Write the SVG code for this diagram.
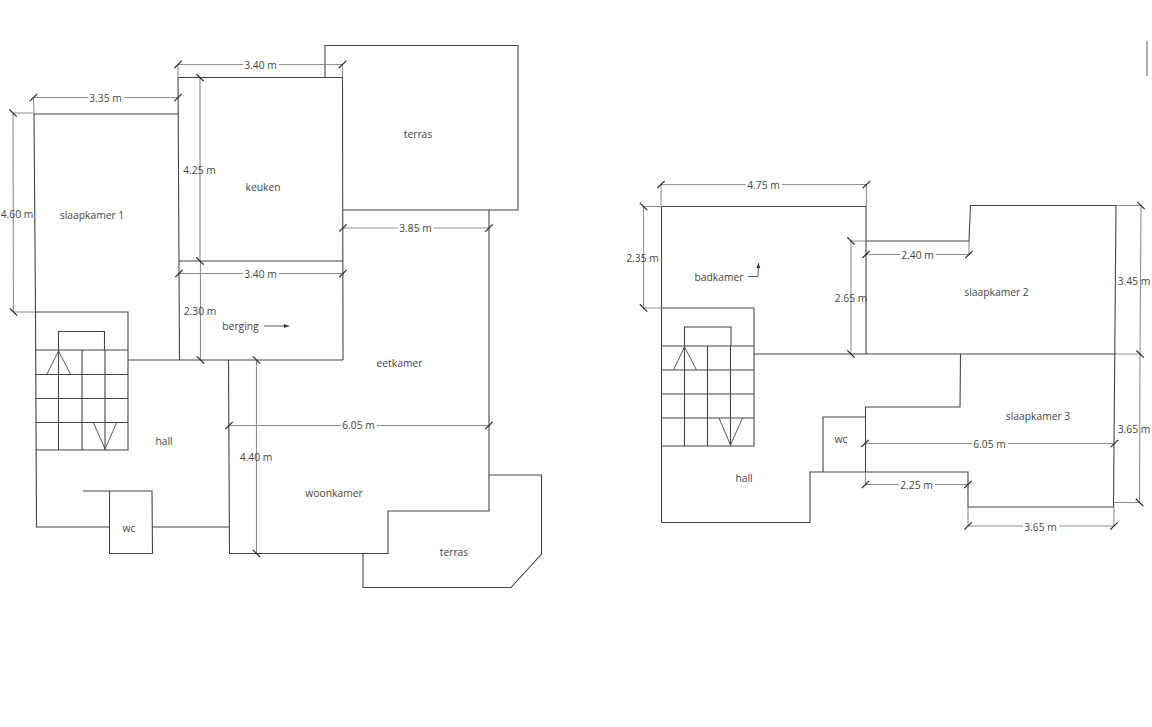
<svg xmlns="http://www.w3.org/2000/svg" width="1152" height="727" viewBox="0 0 1152 727">
<defs>
<marker id="ah" markerWidth="6" markerHeight="5" refX="5" refY="2" orient="auto" markerUnits="userSpaceOnUse"><path d="M0,0 L5,2 L0,4 Z" fill="#333"/></marker>
<path id="ts" d="M-3.700,3.700 L3.700,-3.700"/>
<path id="tb" d="M-3.700,-3.700 L3.700,3.700"/>
</defs>
<style>
.w{fill:none;stroke:#444;stroke-width:1.1}
.d{fill:none;stroke:#8f8f8f;stroke-width:1.100}
.t{fill:none;stroke:#222;stroke-width:1.2}
.a{fill:none;stroke:#444;stroke-width:.9}
text{font-family:"Open Sans","Noto Sans","DejaVu Sans",sans-serif;font-size:10.3px;fill:#444;text-anchor:middle;dominant-baseline:central}
.g{fill:#fff;stroke:none}
</style>
<rect width="1152" height="727" fill="#fff"/>
<g id="walls-left">
<path class="w" d="M34,114H178M178,77.500L179.500,360M178,77.500H342.500L343,360M179,261H343M128,360H343M228.500,360L229.500,553.500H388V511H489V210M325,77.500V45.500H518V210H343"/>
<path class="w" d="M34,114L35.500,312L36.500,527H109.500M152.500,527H229.500"/>
</g>
<g id="stairs-left">
<path class="w" d="M35.500,312H128V450H36M36,350H128M36,374.500H128M36,398.500H128M36,422.500H128M58.500,350V450M82,350V450M105,350V450M58.500,350V331.500H104.500V350"/>
<path class="a" d="M47,374L58.500,351L70.500,374M93.500,423L105,449L116.500,423"/>
</g>
<g id="wc-left"><path class="w" d="M83,491H152L152.500,553.500H109.500V491"/><text x="129" y="528" font-size="10">wc</text></g>
<g id="terras-left-2"><path class="w" d="M363,554V587.500H511L541.500,554V475H489"/><text x="454" y="552">terras</text></g>
<g id="slaapkamer-1"><text x="92" y="215">slaapkamer 1</text></g>
<g id="keuken"><text x="263" y="187">keuken</text></g>
<g id="terras-left-1"><text x="418" y="134">terras</text></g>
<g id="berging"><text x="240.500" y="326">berging</text></g>
<g id="eetkamer"><text x="399.500" y="363">eetkamer</text></g>
<g id="hall-left"><text x="164" y="441">hall</text></g>
<g id="woonkamer"><text x="334" y="493">woonkamer</text></g>
<g id="walls-right">
<path class="w" d="M661.500,206.500H866V354M866,241H969L970.500,205.500H1116L1113.500,507H968V472H810V522.500H661.500V206.500M754,354H1116M960.500,354L960,407H865.500V472"/>
</g>
<g id="stairs-right">
<path class="w" d="M661.500,308H754V446H661.500M661.500,346H754M661.500,370H754M661.500,394H754M661.500,418H754M684.500,346V446M707.500,346V446M730.500,346V446M684.500,346V327H731V346"/>
<path class="a" d="M673.500,370L684.500,347L696.500,370M719,418L730.500,445L742.500,418"/>
</g>
<g id="wc-right"><path class="w" d="M823,472V417H865.500"/><text x="841" y="439" font-size="10">wc</text></g>
<g id="badkamer"><text x="719" y="277">badkamer</text></g>
<g id="slaapkamer-2"><text x="996.500" y="292">slaapkamer 2</text></g>
<g id="slaapkamer-3"><text x="1038" y="415.500">slaapkamer 3</text></g>
<g id="hall-right"><text x="744" y="478">hall</text></g>
<g id="connectors">
<path class="a" marker-end="url(#ah)" d="M264,326H289"/>
<path class="a" marker-end="url(#ah)" d="M748,276.500H758L758.500,263"/>
<path class="d" d="M33.500,97.500H178M33.500,97.500L34,114M178,64.500H342.500M178,64.500V77.500M342.500,64.500V77.500M13,113L13.500,312M13,113H34M13.500,312H35M200,77.500V261M200.500,261V360M179,273.500H343M343,228H489M229,425.500H489M256.500,360V553.500"/>
<path class="d" d="M661,184.500H866.500M661,184.500V206.500M866.500,184.500V206.500M643.500,206.500V308M643.500,206.500H661.500M643.500,308H661.500M851,241V354M851,241H866M866,254.500H969M969,241V254.500M1141,205.500L1140,354L1139.500,502.500M1116,205.500H1141M1116,354H1140M1114,502.500H1139.500M865,443.500H1114.500M865.500,484.500H968M865.500,472V484.500M968,526H1114M968,507V526M1114,507V526"/>
<g class="t">
<use href="#ts" x="33.500" y="97.500"/><use href="#ts" x="178" y="97.500"/><use href="#ts" x="178" y="64.500"/><use href="#ts" x="342.500" y="64.500"/>
<use href="#tb" x="13" y="113"/><use href="#tb" x="13.500" y="312"/><use href="#tb" x="200" y="77.500"/><use href="#tb" x="200" y="261"/><use href="#tb" x="200.500" y="360"/>
<use href="#ts" x="179" y="273.500"/><use href="#ts" x="343" y="273.500"/><use href="#ts" x="343" y="228"/><use href="#ts" x="489" y="228"/><use href="#ts" x="229" y="425.500"/><use href="#ts" x="489" y="425.500"/>
<use href="#tb" x="256.500" y="360"/><use href="#tb" x="256.500" y="553.500"/>
<use href="#ts" x="661" y="184.500"/><use href="#ts" x="866.500" y="184.500"/><use href="#tb" x="643.500" y="206.500"/><use href="#tb" x="643.500" y="308"/><use href="#tb" x="851" y="241"/><use href="#tb" x="851" y="354"/>
<use href="#ts" x="866" y="254.500"/><use href="#ts" x="969" y="254.500"/><use href="#tb" x="1141" y="205.500"/><use href="#tb" x="1140" y="354"/><use href="#tb" x="1139.500" y="502.500"/>
<use href="#ts" x="865" y="443.500"/><use href="#ts" x="1114.500" y="443.500"/><use href="#ts" x="865.500" y="484.500"/><use href="#ts" x="968" y="484.500"/><use href="#ts" x="968" y="526"/><use href="#ts" x="1114" y="526"/>
</g>
<rect class="g" x="88" y="91" width="36" height="14"/><rect class="g" x="243" y="58" width="36" height="14"/><rect class="g" x="243" y="267" width="36" height="14"/><rect class="g" x="398" y="221" width="36" height="14"/><rect class="g" x="341" y="419" width="36" height="14"/>
<rect class="g" x="746" y="178" width="36" height="14"/><rect class="g" x="900" y="248" width="36" height="14"/><rect class="g" x="972" y="437" width="36" height="14"/><rect class="g" x="899" y="478" width="36" height="14"/><rect class="g" x="1023" y="520" width="36" height="14"/>
<text x="105.500" y="98">3.35 m</text><text x="260.500" y="65">3.40 m</text><text x="17" y="214">4.60 m</text><text x="199.500" y="170">4.25 m</text><text x="200" y="311">2.30 m</text><text x="260.500" y="274">3.40 m</text><text x="415.500" y="228">3.85 m</text><text x="358.500" y="425">6.05 m</text><text x="256" y="457">4.40 m</text>
<text x="763.500" y="185">4.75 m</text><text x="642.500" y="258">2.35 m</text><text x="851" y="298">2.65 m</text><text x="917.500" y="255">2.40 m</text><text x="1134" y="281">3.45 m</text><text x="1134" y="429">3.65 m</text><text x="989.500" y="444">6.05 m</text><text x="916.500" y="485">2.25 m</text><text x="1040.500" y="527">3.65 m</text>
</g>
<path d="M1147,41V76" stroke="#777" stroke-width="1.2" fill="none"/>
</svg>
